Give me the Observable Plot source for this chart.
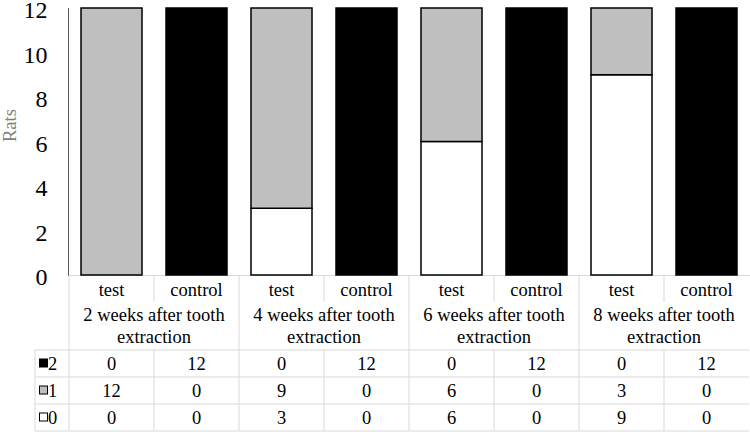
<!DOCTYPE html>
<html><head><meta charset="utf-8">
<script src="https://cdn.jsdelivr.net/npm/d3@7"></script>
<script src="https://cdn.jsdelivr.net/npm/@observablehq/plot@0.6"></script>
<style>body{margin:0;background:#fff} svg{display:block}
svg text.tbl{font-family:"Liberation Serif","Times New Roman",serif !important;font-size:18.5px;fill:#000}</style>
</head><body><div id="chart"></div>
<script>
// ---- data ----
const periods = ["2 weeks after tooth extraction", "4 weeks after tooth extraction", "6 weeks after tooth extraction", "8 weeks after tooth extraction"];
const periodLines = [["2 weeks after tooth", "extraction"], ["4 weeks after tooth", "extraction"], ["6 weeks after tooth", "extraction"], ["8 weeks after tooth", "extraction"]];
const groups = ["test", "control"];
const scores = ["2", "1", "0"];            // table row order
const score2 = [0, 12, 0, 12, 0, 12, 0, 12];
const score1 = [12, 0, 9, 0, 6, 0, 3, 0];
const score0 = [0, 0, 3, 0, 6, 0, 9, 0];
const scoreColors = ["#ffffff", "#bfbfbf", "#000000"]; // for scores 0,1,2
const yTicks = [0, 2, 4, 6, 8, 10, 12];
const yLabel = "Rats";

// ---- derived ----
const ids = periods.flatMap((p, i) => groups.map(g => `${i}|${g}`));
const valuesByScore = {"0": score0, "1": score1, "2": score2};
const barData = [];
ids.forEach((id, j) => {
  ["0", "1", "2"].forEach(s => {
    const v = valuesByScore[s][j];
    if (v > 0) barData.push({id, score: s, value: v});
  });
});

const FONT = "'Liberation Serif', 'Times New Roman', serif";
const GRID = "#d9d9d9";

const plot = Plot.plot({
  width: 750,
  height: 432,
  marginLeft: 68,
  marginRight: 0,
  marginTop: 8,
  marginBottom: 157,
  style: {fontFamily: FONT, background: "#fff", color: "#000"},
  x: {domain: ids, paddingInner: 0.28, paddingOuter: 0.14, axis: null},
  y: {domain: [0, 12], axis: null},
  color: {domain: ["0", "1", "2"], range: scoreColors},
  marks: [
    Plot.ruleY([0], {stroke: GRID, strokeWidth: 1}),
    Plot.rectY(barData, Plot.stackY({
      x: "id", y: "value", z: "score", order: ["0", "1", "2"],
      fill: "score", stroke: "#000", strokeWidth: 1.5
    })),
    Plot.axisY({ticks: yTicks, tickSize: 0, tickPadding: 21, fontSize: 24, label: null, fill: "#000", dy: 2}),
    Plot.text([yLabel], {frameAnchor: "left", dx: -58, rotate: -90, fill: "#7f7f7f", fontSize: 18.5, fontFamily: FONT}),
    Plot.frame({anchor: "left", stroke: "#595959", strokeWidth: 1})
  ]
});

document.getElementById("chart").appendChild(plot);

// ---- data table beneath the plot, positioned from the plot's x scale ----
const xs = plot.scale("x");
const step = xs.step, bw = xs.bandwidth;
const slotLeft = j => xs.apply(ids[j]) - (step - bw) / 2;
const left = slotLeft(0);
const right = slotLeft(ids.length - 1) + step;
const yb = 432 - 157;
const rowA = 27, rowB = 48, rowD = 27;
const yA = yb, yB = yA + rowA, yD = yB + rowB;
const yEnd = yD + rowD * scores.length;
const legLeft = 35;

const svg = d3.select(plot);
const g = svg.append("g");
const line = (x1, y1, x2, y2) => g.append("line")
  .attr("x1", x1).attr("y1", y1).attr("x2", x2).attr("y2", y2)
  .attr("stroke", GRID).attr("stroke-width", 1);
const label = (x, y, t, anchor) => g.append("text").attr("class", "tbl")
  .attr("x", x).attr("y", y).attr("dy", "0.35em")
  .style("text-anchor", anchor).text(t);

// horizontal lines
for (let r = 0; r <= scores.length; r++) line(legLeft, yD + r * rowD, right, yD + r * rowD);
// vertical lines
line(left, yA, left, yEnd);
line(legLeft, yD, legLeft, yEnd);
for (let j = 1; j < ids.length; j++) {
  const xv = slotLeft(j);
  if (j % 2 === 0) line(xv, yA, xv, yEnd);
  else { line(xv, yA, xv, yB); line(xv, yD, xv, yEnd); }
}
// group row
ids.forEach((id, j) => label(slotLeft(j) + step / 2, yA + rowA / 2 + 1, groups[j % 2], "middle"));
// period row
periodLines.forEach((ls, i) => {
  const cx = slotLeft(2 * i) + step;
  ls.forEach((t, k) => label(cx, yB + 13 + k * 22, t, "middle"));
});
// data rows
scores.forEach((s, r) => {
  const cy = yD + r * rowD + rowD / 2;
  g.append("rect").attr("x", 39.5).attr("y", cy - 4.5).attr("width", 8).attr("height", 8)
    .attr("fill", scoreColors[+s]).attr("stroke", "#000").attr("stroke-width", 1);
  label(48, cy, s, "start");
  valuesByScore[s].forEach((v, j) => label(slotLeft(j) + step / 2, cy, v, "middle"));
});
</script>
</body></html>
